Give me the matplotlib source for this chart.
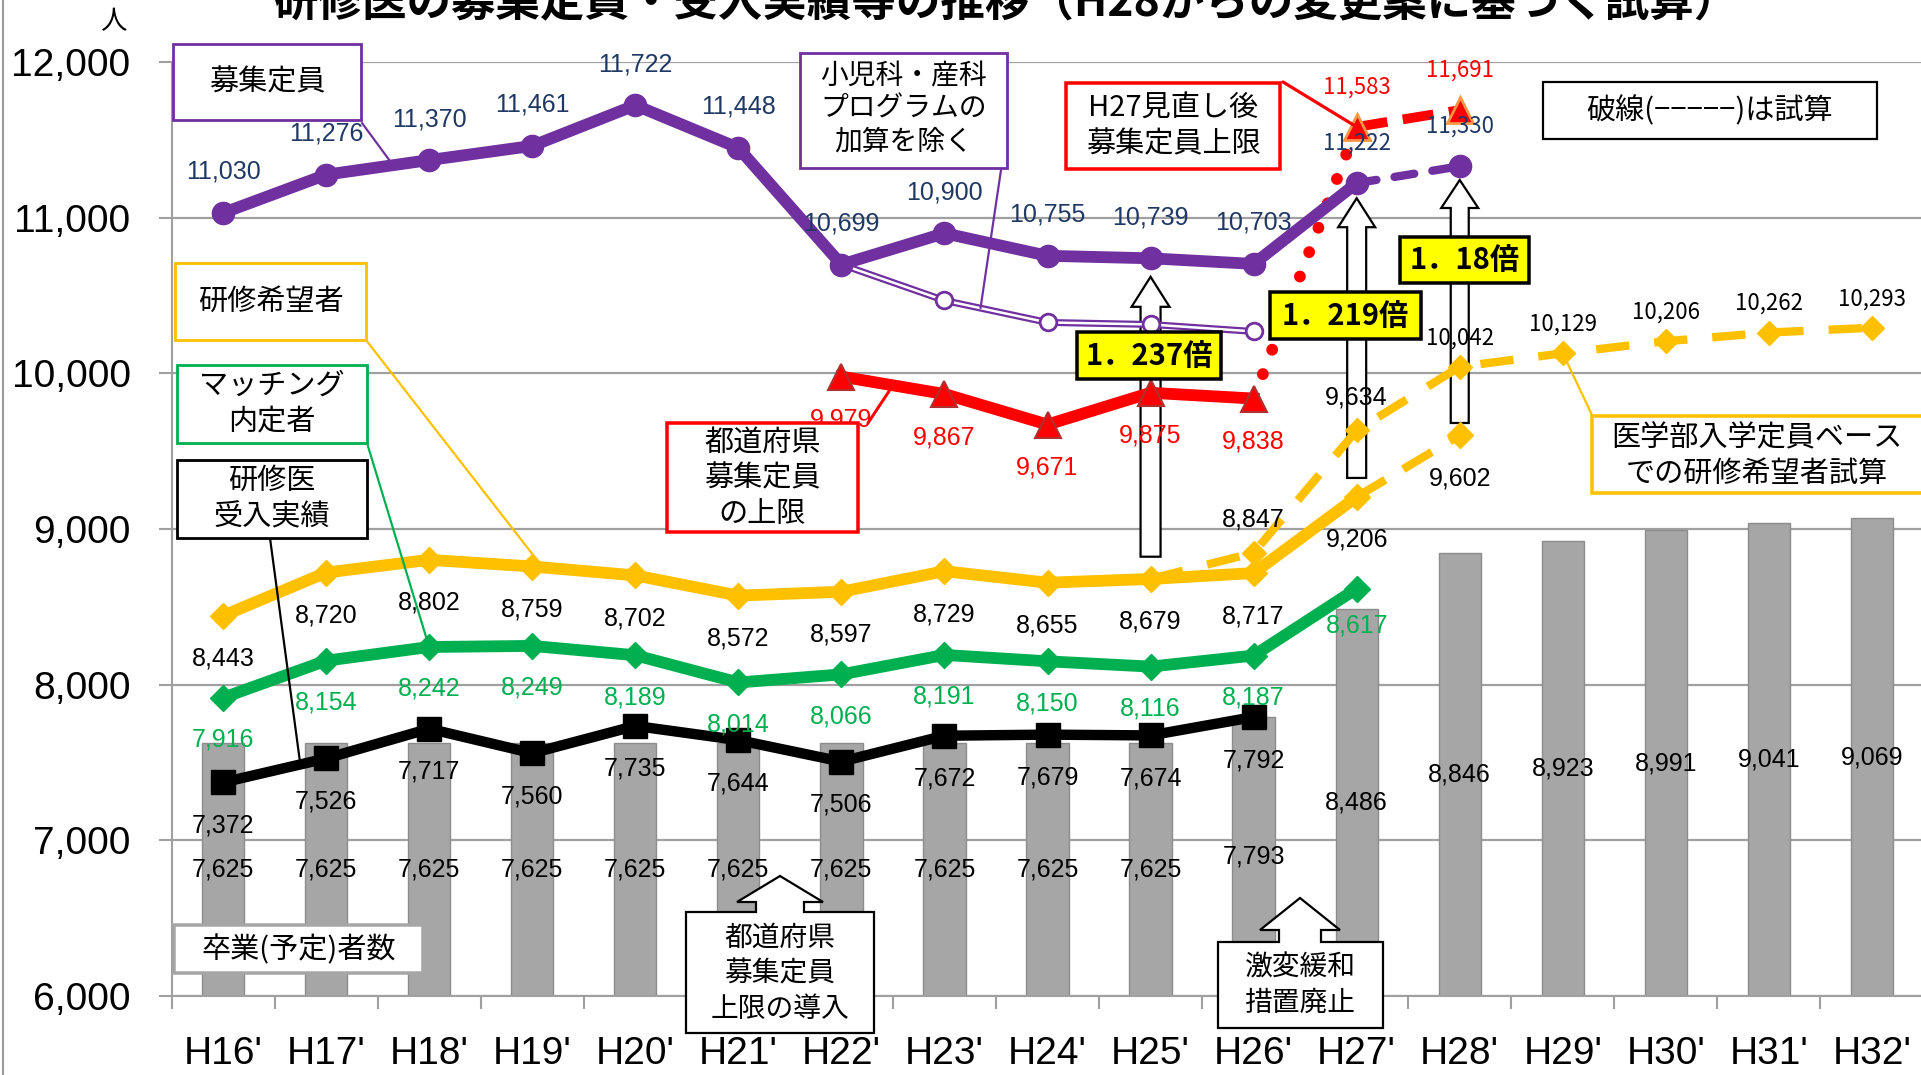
import matplotlib
matplotlib.use("Agg")
import matplotlib.pyplot as plt
from matplotlib.lines import Line2D
from matplotlib.patches import Polygon, Rectangle
import numpy as np

plt.rcParams["font.family"] = ["Noto Sans CJK JP", "DejaVu Sans"]

# ---- data (H16'..H32') ----
years = ["H16'", "H17'", "H18'", "H19'", "H20'", "H21'", "H22'", "H23'", "H24'",
         "H25'", "H26'", "H27'", "H28'", "H29'", "H30'", "H31'", "H32'"]
graduates = [7625, 7625, 7625, 7625, 7625, 7625, 7625, 7625, 7625, 7625,
             7793, 8486, 8846, 8923, 8991, 9041, 9069]
recruit = [11030, 11276, 11370, 11461, 11722, 11448, 10699, 10900, 10755,
           10739, 10703, 11222]                      # H16-H27
recruit_trial = [11222, 11330]                       # H27-H28
recruit_excl = [10699, 10468, 10327, 10314, 10269]   # H22-H26
pref_cap = [9979, 9867, 9671, 9875, 9838]            # H22-H26
cap_review = [11583, 11691]                          # H27-H28
applicants = [8443, 8720, 8802, 8759, 8702, 8572, 8597, 8729, 8655, 8679,
              8717, 9206]                            # H16-H27
applicants_trial = [9206, 9602]                      # H27-H28
applicants_base = [8679, 8847, 9634, 10042, 10129, 10206, 10262, 10293]  # H25-H32
matched = [7916, 8154, 8242, 8249, 8189, 8014, 8066, 8191, 8150, 8116,
           8187, 8617]                               # H16-H27
accepted = [7372, 7526, 7717, 7560, 7735, 7644, 7506, 7672, 7679, 7674,
            7792]                                    # H16-H26
ratio_labels = ["1．237倍", "1．219倍", "1．18倍"]

PURPLE, YELLOW, GREEN, RED = "#7030A0", "#FFC000", "#00B050", "#FF0000"
NAVY = "#1F3864"
GRID = "#A0A0A0"
NUM_FONT = "Liberation Sans"

W, H = 1921, 1075
Y_MIN, Y_MAX = 6000, 12000

fig = plt.figure(figsize=(W / 100, H / 100), dpi=100)
ax_left, ax_w = 171.5, 1752.0
ax_bottom, ax_h = 996.0, 934.0
ax = fig.add_axes([ax_left / W, (H - ax_bottom) / H, ax_w / W, ax_h / H])
ax.set_xlim(-0.5, len(years) - 0.5)
ax.set_ylim(Y_MIN, Y_MAX)
xu = ax_w / len(years)        # px per category
yu = ax_h / (Y_MAX - Y_MIN)   # px per person


def fx(px):
    return px / W


def fy(py):
    return 1 - py / H


idx = np.arange(len(years))

# bars
ax.bar(idx, graduates, width=0.41, color="#A6A6A6", edgecolor="#8C8C8C",
       linewidth=1, zorder=1)
for i, v in enumerate(graduates):
    ax.text(i, (Y_MIN + v) / 2, f"{v:,}", ha="center", va="center",
            fontsize=18, family=NUM_FONT, zorder=6)


def up_arrow(i, y0, y1, sw=9.5, hw=18.5, hl=29):
    swd, hwd, hld = sw / xu, hw / xu, hl / yu
    pts = [(i - swd, y0), (i + swd, y0), (i + swd, y1 - hld), (i + hwd, y1 - hld),
           (i, y1), (i - hwd, y1 - hld), (i - swd, y1 - hld)]
    ax.add_patch(Polygon(pts, closed=True, fc="white", ec="black", lw=1.6,
                         zorder=2.5))


up_arrow(9, 8822, 10620, sw=10, hw=19, hl=30)
up_arrow(11, 9328, 11125)
up_arrow(12, 9681, 11242, sw=9, hw=18.5, hl=28)

# lines
x_h16_27 = idx[:12]
x_h22_26 = idx[6:11]

ax.plot(x_h16_27, applicants, color=YELLOW, lw=8.5, marker="D", ms=13,
        zorder=3, clip_on=False)
ax.plot(idx[11:13], applicants_trial, color=YELLOW, lw=6, dashes=(4, 2.5),
        marker="D", ms=13, markevery=[1], zorder=3)
ax.plot(idx[9:17], applicants_base, color=YELLOW, lw=6, dashes=(4, 3),
        marker="D", ms=12, markevery=list(range(1, 8)), zorder=3)
ax.plot(x_h16_27, matched, color=GREEN, lw=8.5, marker="D", ms=13, zorder=3)
ax.plot(idx[:11], accepted, color="black", lw=7.5, marker="s", ms=17, zorder=3)

ax.plot(x_h22_26, pref_cap, color=RED, lw=8.5, marker="^", ms=19,
        mfc=RED, mec="#B03030", mew=1.5, zorder=3.2)
ax.plot([10, 11], [pref_cap[-1], cap_review[0]], color=RED, lw=8.5,
        dashes=(0.01, 2.2), dash_capstyle="round", zorder=3.1)
ax.plot(idx[11:13], cap_review, color=RED, lw=7, dashes=(3.2, 1.6),
        marker="^", ms=19, mfc=RED, mec="#F79646", mew=2, zorder=3.2,
        clip_on=False)

ax.plot(x_h22_26, recruit_excl, color=PURPLE, lw=5, zorder=3.3)
ax.plot(x_h22_26, recruit_excl, color="white", lw=1.8, zorder=3.35)
ax.plot(x_h22_26[1:], recruit_excl[1:], ls="none", marker="o", ms=12,
        mfc="white", mec=PURPLE, mew=2, zorder=3.4)
ax.plot(x_h16_27, recruit, color=PURPLE, lw=8.5, marker="o", ms=16,
        zorder=3.5, clip_on=False)
ax.plot(idx[11:13], recruit_trial, color=PURPLE, lw=6, dashes=(2.4, 2.2),
        dash_capstyle="round", marker="o", ms=16, markevery=[1], zorder=3.5)


# value labels
def labels(xs, vals, dy, color="black", font=NUM_FONT, size=18):
    for x, v in zip(xs, vals):
        ax.annotate(f"{v:,}", (x, v), xytext=(0, dy), textcoords="offset pixels",
                    ha="center", va="center", fontsize=size, color=color,
                    family=font, zorder=6, annotation_clip=False)


labels(x_h16_27[:11], recruit[:11], 41, NAVY)
labels([11, 12], recruit_trial, 40, NAVY, font="Noto Sans CJK JP", size=16)
labels(x_h22_26, pref_cap, -43, RED)
labels([11, 12], cap_review, 40, RED, font="Noto Sans CJK JP", size=16)
labels(x_h16_27, applicants, -43)
labels([12], applicants_trial[1:], -43)
labels(idx[10:12], applicants_base[1:3], 33)
labels(idx[12:17], applicants_base[3:], 29, font="Noto Sans CJK JP", size=16)
labels(x_h16_27[:11], matched[:11], -42, GREEN)
labels([11], matched[11:], -37, GREEN)
labels(idx[:11], accepted, -43)

# axes styling
ax.set_xticks(idx)
ax.set_xticklabels(years, fontsize=28, family=NUM_FONT)
ax.set_xticks(np.arange(-0.5, len(years), 1), minor=True)
ax.tick_params(axis="x", which="major", length=0, pad=29)
ax.tick_params(axis="x", which="minor", length=9.5, width=1.5, color=GRID)
yt = list(range(Y_MIN, Y_MAX + 1, 1000))
ax.set_yticks(yt)
ax.set_yticklabels([f"{v:,}" for v in yt], fontsize=28, family=NUM_FONT)
ax.tick_params(axis="y", length=9.5, width=1.5, color=GRID, pad=20)
ax.yaxis.grid(True, color=GRID, lw=1.6, zorder=0)
ax.set_axisbelow(True)
for s in ["top", "right"]:
    ax.spines[s].set_visible(False)
for s in ["left", "bottom"]:
    ax.spines[s].set_color(GRID)
    ax.spines[s].set_linewidth(1.5)

fig.add_artist(Line2D([fx(2.5), fx(2.5)], [0, 1], color="#9A9A9A", lw=1.5))
fig.text(fx(113), fy(22), "人", ha="center", va="center", fontsize=19)
fig.text(fx(1006), fy(2), "研修医の募集定員・受入実績等の推移（H28からの変更案に基づく試算）",
         ha="center", va="center", fontsize=32, fontweight="bold")


# annotation boxes (pixel layout, top-left origin)
def box(x0, y0, x1, y1, text, edge, lw=2.8, face="white", size=21,
        weight="normal", tx=None, ty=None, ls=1.25):
    fig.add_artist(Rectangle((fx(x0), fy(y1)), fx(x1) - fx(x0), fy(y0) - fy(y1),
                             transform=fig.transFigure, fc=face, ec=edge,
                             lw=lw * 0.72, zorder=10))
    cx = (x0 + x1) / 2 if tx is None else tx
    cy = (y0 + y1) / 2 if ty is None else ty
    fig.text(fx(cx), fy(cy), text, ha="center", va="center", fontsize=size,
             fontweight=weight, linespacing=ls, zorder=11)


def connector(px, py, xd, yd, color, lw=2.2):
    ax.annotate("", xy=(xd, yd), xycoords="data",
                xytext=(fx(px), fy(py)), textcoords="figure fraction",
                arrowprops=dict(arrowstyle="-", color=color, lw=lw * 0.72,
                                shrinkA=0, shrinkB=0),
                annotation_clip=False, zorder=9)


def callout(x0, y0, x1, y1, cx, tip, head_base, sw, hw, text, ty):
    pts = [(x0, y1), (x1, y1), (x1, y0), (cx + sw, y0), (cx + sw, head_base),
           (cx + hw, head_base), (cx, tip), (cx - hw, head_base),
           (cx - sw, head_base), (cx - sw, y0), (x0, y0)]
    fig.add_artist(Polygon([(fx(a), fy(b)) for a, b in pts], closed=True,
                           transform=fig.transFigure, fc="white", ec="black",
                           lw=1.6, zorder=10))
    fig.text(fx(cx), fy(ty), text, ha="center", va="center", fontsize=20,
             linespacing=1.25, zorder=11)


connector(362, 123, 1.65, 11337, PURPLE)
connector(366, 340, 3.1, 8755, YELLOW)
connector(367, 443, 2, matched[2], GREEN)
connector(270, 538, 0.75, 7487, "black")
connector(1001, 170, 7.35, 10419, PURPLE)
connector(1283, 82, 11, cap_review[0], RED, lw=3.2)
connector(868, 423, 6.5, 9923, RED, lw=3)
connector(1592, 415, 13, applicants_base[4], YELLOW)

box(173, 44, 361, 120, "募集定員", PURPLE)
box(175, 263, 366, 340, "研修希望者", YELLOW, ty=302)
box(177, 365, 367, 443, "マッチング\n内定者", GREEN, ty=404)
box(177, 460, 367, 538, "研修医\n受入実績", "black", ty=499)
box(174, 925, 423, 973, "卒業(予定)者数", "#A6A6A6", lw=3.5, ty=950)
box(800, 53, 1007, 168, "小児科・産科\nプログラムの\n加算を除く", PURPLE,
    size=20, ls=1.12, ty=109)
box(1066, 83, 1280, 169, "H27見直し後\n募集定員上限", RED, lw=3.5, size=21, ty=127)
box(1543, 82, 1877, 139, "破線(−−−−−)は試算", "black", lw=2.2, size=21, ty=111)
box(667, 423, 858, 532, "都道府県\n募集定員\nの上限", RED, lw=3.5, ty=478)
box(1592, 416, 1930, 493, "医学部入学定員ベース\nでの研修希望者試算", YELLOW,
    lw=3.5, tx=1757, ty=456)

box(1077, 332, 1221, 379, ratio_labels[0], "black", lw=3.5, face="#FFFF00",
    size=21, weight="bold")
box(1270, 292, 1421, 339, ratio_labels[1], "black", lw=3.5, face="#FFFF00",
    size=21, weight="bold")
box(1400, 237, 1529, 283, ratio_labels[2], "black", lw=3.5, face="#FFFF00",
    size=21, weight="bold")

callout(686, 912, 874, 1033, 780, 876, 902, 24, 43,
        "都道府県\n募集定員\n上限の導入", 973)
callout(1218, 942, 1383, 1028, 1300, 898, 930, 21, 40,
        "激変緩和\n措置廃止", 985)

fig.savefig("out.png", dpi=100)
